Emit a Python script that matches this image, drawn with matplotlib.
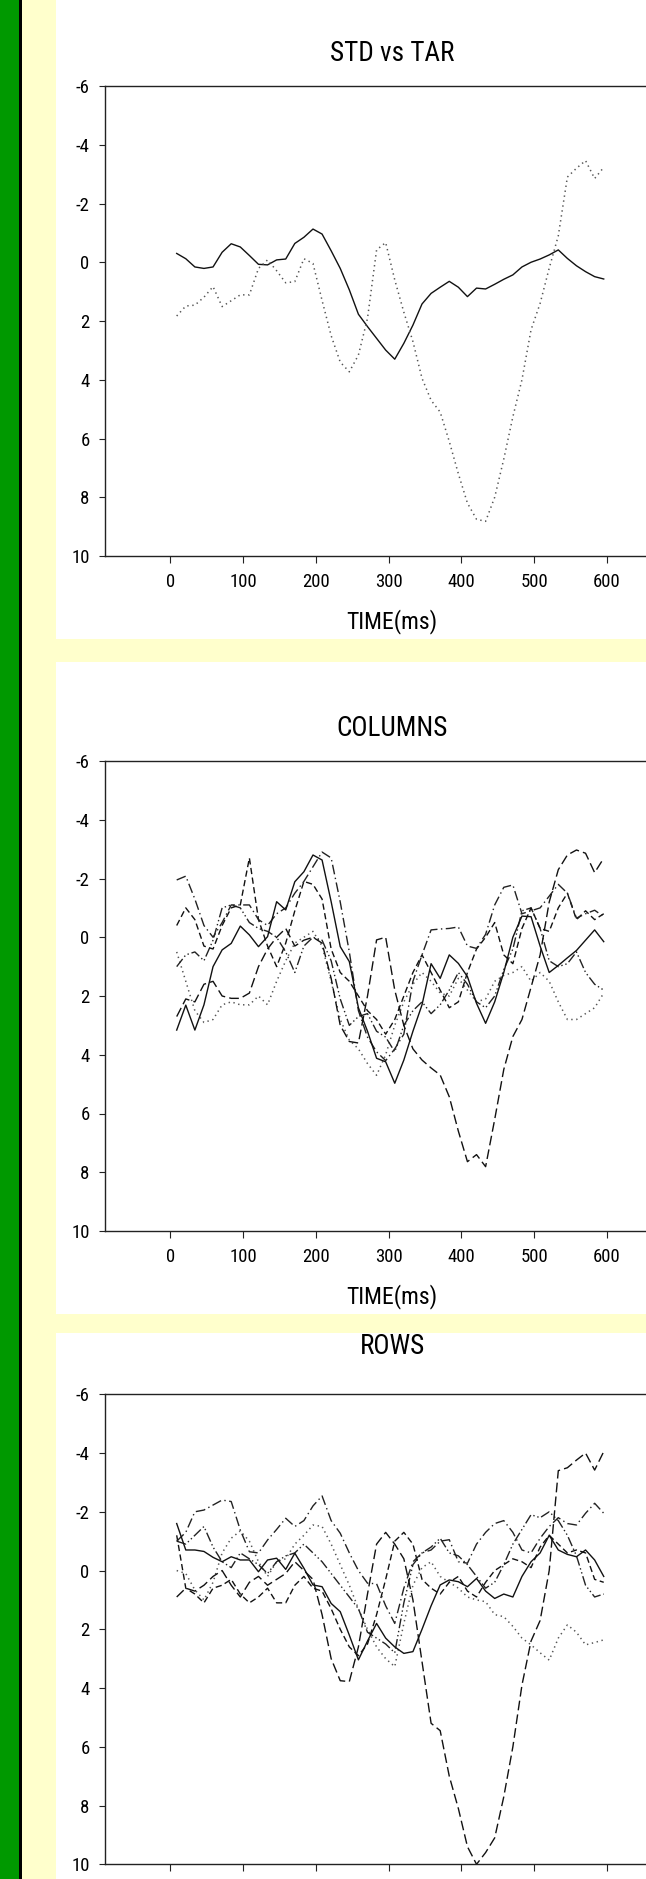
import numpy as np
import matplotlib.pyplot as plt
from matplotlib.patches import Rectangle

plt.rcParams['font.family'] = ['Roboto Condensed', 'Liberation Sans', 'DejaVu Sans']
plt.rcParams['axes.unicode_minus'] = False
plt.rcParams['lines.scale_dashes'] = False

W, H = 646, 1879

# sample times (ms)
t_ms = np.linspace(8.9, 595.5, 48)

# STD vs TAR grand averages (uV, negative up)
std_wave = [-0.30, -0.12, 0.16, 0.21, 0.16, -0.34, -0.63, -0.52, -0.23, 0.07,
            0.09, -0.08, -0.11, -0.64, -0.85, -1.13, -0.96, -0.39, 0.21, 0.94,
            1.77, 2.19, 2.59, 2.99, 3.30, 2.76, 2.14, 1.42, 1.06, 0.85,
            0.65, 0.85, 1.17, 0.88, 0.91, 0.75, 0.58, 0.43, 0.16, 0.00,
            -0.11, -0.25, -0.42, -0.13, 0.12, 0.32, 0.49, 0.57]
tar_wave = [1.83, 1.49, 1.46, 1.19, 0.83, 1.51, 1.31, 1.11, 1.11, 0.21,
            -0.08, 0.29, 0.70, 0.66, -0.12, 0.04, 1.30, 2.50, 3.40, 3.73,
            3.16, 1.91, -0.42, -0.67, 0.60, 1.70, 2.70, 3.95, 4.70, 5.10,
            6.10, 7.20, 8.20, 8.75, 8.82, 8.00, 6.70, 5.26, 4.00, 2.30,
            1.40, 0.20, -0.90, -2.90, -3.20, -3.46, -2.85, -3.23]

# COLUMNS
col_1 = [3.16, 2.31, 3.16, 2.3, 1.0, 0.43, 0.21, -0.38, -0.08, 0.32,
         -0.02, -1.21, -0.93, -1.89, -2.23, -2.80, -2.63, -1.21, 0.32, 0.83,
         2.4, 3.2, 4.12, 4.24, 4.97, 4.18, 3.2, 2.3, 0.9, 1.40,
         0.60, 0.89, 1.34, 2.25, 2.93, 2.2, 1.2, 0.0, -0.72, -0.7,
         0.3, 1.2, 0.96, 0.7, 0.45, 0.1, -0.25, 0.15]
col_2 = [2.7, 2.1, 2.2, 1.6, 1.5, 2.0, 2.08, 2.08, 1.9, 1.0,
         0.4, 0.0, -0.3, 0.3, 0.1, 0.0, 0.2, 1.4, 3.0, 3.55,
         3.6, 2.0, 0.09, 0.0, 1.8, 3.0, 3.8, 4.18, 4.45, 4.69,
         5.43, 6.6, 7.64, 7.4, 7.81, 6.2, 4.5, 3.38, 2.8, 1.7,
         0.6, -1.2, -2.3, -2.8, -2.97, -2.86, -2.2, -2.69]
col_3 = [-1.95, -2.08, -1.3, -0.4, 0.0, -0.5, -1.1, -1.1, -1.1, -0.6,
         -0.4, -0.8, -1.0, -1.5, -1.9, -2.4, -2.9, -2.7, -1.2, 0.5,
         2.5, 3.4, 3.9, 4.2, 3.8, 3.3, 1.5, 0.6, -0.25, -0.28,
         -0.3, -0.35, 0.3, 0.38, -0.1, -1.1, -1.7, -1.78, -0.8, -0.9,
         -1.0, -1.4, -1.8, -1.5, -0.65, -0.8, -0.92, -0.7]
col_4 = [0.5, 1.5, 2.5, 2.9, 2.8, 2.3, 2.2, 2.3, 2.3, 2.0,
         2.3, 1.5, 0.8, 0.2, 0.0, -0.2, 0.3, 1.5, 2.8, 3.5,
         3.8, 4.3, 4.7, 4.0, 3.0, 2.2, 1.6, 1.2, 1.5, 1.9,
         2.0, 1.4, 1.8, 2.2, 2.1, 1.5, 1.3, 1.2, 1.0, 1.5,
         1.2, 1.5, 2.2, 2.8, 2.8, 2.6, 2.4, 1.9]
col_5 = [-0.4, -1.0, -0.6, 0.3, 0.4, -0.4, -1.0, -1.1, -2.7, -0.6,
         0.3, 1.0, 0.2, -0.9, -1.9, -1.8, -1.3, 0.4, 1.2, 1.5,
         2.0, 2.5, 2.8, 3.3, 2.8, 2.0, 1.2, 0.6, 1.2, 1.8,
         2.4, 2.2, 1.2, 0.4, 0.0, -0.5, 0.6, 0.9, -0.3, -1.0,
         -0.3, -0.2, -1.0, -1.5, -0.6, -0.9, -0.6, -0.8]
col_6 = [1.0, 0.6, 0.5, 0.8, 0.1, -1.0, -1.1, -1.0, -0.5, -0.3,
         -0.2, 0.0, 0.5, 1.2, 0.3, 0.0, 0.1, 0.8, 2.1, 3.0,
         2.7, 2.6, 3.2, 3.4, 3.9, 3.0, 2.5, 2.2, 2.6, 2.3,
         1.8, 1.2, 1.6, 2.2, 2.4, 2.0, 1.1, 0.4, -0.9, -1.0,
         -0.3, 0.8, 1.0, 0.9, 0.5, 1.2, 1.6, 1.8]

# ROWS
row_1 = [-1.6, -0.7, -0.70, -0.65, -0.45, -0.30, -0.47, -0.36, -0.36, 0.04,
         -0.36, -0.42, -0.04, -0.59, -0.08, 0.49, 0.55, 1.12, 1.4, 2.2,
         3.04, 2.4, 1.8, 2.3, 2.6, 2.82, 2.76, 2.0, 1.2, 0.49,
         0.32, 0.38, 0.55, 0.27, 0.7, 0.95, 0.8, 0.9, 0.2, -0.3,
         -0.6, -1.2, -0.7, -0.55, -0.47, -0.7, -0.36, 0.2]
row_2 = [0.9, 0.6, 0.7, 0.5, 0.2, 0.0, 0.5, 0.9, 0.4, 0.2,
         0.5, 0.3, 0.1, -0.3, 0.0, 0.3, 1.5, 3.0, 3.75, 3.78,
         2.6, 0.8, -0.9, -1.3, -0.9, -0.4, 1.0, 3.1, 5.2, 5.45,
         7.0, 8.1, 9.4, 10.0, 9.6, 9.1, 7.7, 6.0, 3.9, 2.4,
         1.7, 0.0, -3.4, -3.5, -3.76, -4.0, -3.42, -4.05]
row_3 = [-1.0, -1.3, -2.0, -2.06, -2.23, -2.40, -2.35, -1.38, -0.64, -0.6,
         -1.04, -1.4, -1.78, -1.5, -1.7, -2.2, -2.54, -1.7, -1.27, -0.6,
         0.0, 0.43, 0.45, 1.2, 1.8, 0.6, -0.3, -0.6, -0.7, -1.0,
         -1.05, -0.3, -0.25, -0.9, -1.3, -1.6, -1.7, -1.3, -0.7, -0.6,
         -1.1, -1.5, -1.8, -1.6, -1.55, -1.95, -2.29, -1.95]
row_4 = [0.0, 0.1, 0.66, 1.0, 0.4, -0.6, -1.1, -1.35, -1.0, -0.3,
         0.2, -0.3, -0.4, -0.9, -1.2, -1.55, -1.5, -0.9, -0.2, 0.5,
         1.3, 2.0, 2.6, 3.0, 3.27, 1.8, 0.5, -0.1, -0.3, 0.2,
         0.4, 0.6, 0.9, 1.0, 1.06, 1.5, 1.57, 1.9, 2.3, 2.53,
         2.8, 3.05, 2.3, 1.85, 2.1, 2.53, 2.45, 2.36]
row_5 = [-1.2, 0.6, 0.8, 1.1, 0.6, 0.5, 0.3, 0.8, 1.1, 0.9,
         0.6, 1.1, 1.1, 0.5, 0.2, 0.6, 0.7, 1.3, 2.0, 2.6,
         2.9, 2.5, 1.5, 0.3, -1.0, -1.3, -0.9, 0.3, 0.6, 0.8,
         0.4, 0.2, 0.7, 0.9, 0.4, 0.0, -0.2, -0.4, -0.3, -0.1,
         -0.8, -1.2, -0.9, -0.6, -0.7, -0.6, 0.3, 0.4]
row_6 = [-1.0, -0.9, -1.2, -1.5, -0.8, -0.3, -0.1, -0.6, -0.4, -0.2,
         0.1, -0.3, -0.5, -0.6, -0.9, -0.6, -0.3, 0.1, 0.5, 0.9,
         1.3, 2.1, 2.3, 2.5, 2.8, 1.1, -0.2, -0.6, -0.8, -1.1,
         -0.6, -0.5, -0.2, 0.2, 0.6, 0.4, -0.2, -0.9, -1.4, -1.9,
         -1.8, -2.0, -1.7, -1.2, -0.5, 0.5, 0.9, 0.8]

# line styles (dash lengths in points)
SOLID = dict(linestyle='-', color='#111111', lw=1.0)
DOTTED = dict(linestyle=(0, (1.0, 2.6)), color='#555555', lw=1.1)
DASHED = dict(linestyle=(0, (7, 3)), color='#111111', lw=1.0)
DASHDOT = dict(linestyle=(0, (7, 2.5, 1, 2.5)), color='#222222', lw=1.0)
DASHMED = dict(linestyle=(0, (4.5, 2.5)), color='#111111', lw=1.0)
DASHDOTDOT = dict(linestyle=(0, (7, 2, 1, 2, 1, 2)), color='#222222', lw=1.0)

fig = plt.figure(figsize=(W / 100, H / 100), dpi=100, facecolor='#ffffcc')


def box(x0, y0, x1, y1, color):
    # rectangle given in pixels from the top-left corner, kept behind the axes
    fig.patches.append(Rectangle((x0 / W, 1 - y1 / H), (x1 - x0) / W, (y1 - y0) / H,
                                 transform=fig.transFigure, facecolor=color,
                                 edgecolor='none', zorder=-10))


box(0, 0, 18.5, H, '#009900')
box(18.5, 0, 21.5, H, '#000000')
box(56, 0, W, 639, 'white')
box(56, 662, W, 1314, 'white')
box(56, 1333, W, H, 'white')


def panel(top, title, title_y, lines, xlabel=True):
    ax = fig.add_axes([104.7 / W, 1 - (top + 470) / H, 575.1 / W, 470 / H])
    ax.set_facecolor('white')
    for y, st in lines:
        ax.plot(t_ms, y, **st)
    ax.set_xlim(-90, 700)
    ax.set_ylim(10, -6)
    ax.set_xticks(range(0, 601, 100))
    ax.set_yticks(range(-6, 11, 2))
    for s in ['top', 'bottom', 'left']:
        ax.spines[s].set_color('#222222')
        ax.spines[s].set_linewidth(1.0)
    ax.spines['right'].set_visible(False)
    ax.tick_params(axis='x', direction='out', length=5, width=0.8,
                   labelsize=13.5, pad=7, colors='#222222', labelcolor='black',
                   labelbottom=xlabel)
    ax.tick_params(axis='y', direction='out', length=4.3, width=0.8,
                   labelsize=13.5, pad=6.5, colors='#222222', labelcolor='black')
    ax.text(0.5, 1 + (top - title_y) / 470, title, transform=ax.transAxes,
            ha='center', va='center', fontsize=19.5)
    if xlabel:
        ax.text(0.5, -66 / 470, 'TIME(ms)', transform=ax.transAxes,
                ha='center', va='center', fontsize=17)
    return ax


panel(86, 'STD vs TAR', 53, [(std_wave, SOLID), (tar_wave, DOTTED)])
panel(761, 'COLUMNS', 728, [(col_4, DOTTED), (col_6, DASHDOTDOT), (col_5, DASHMED),
                            (col_3, DASHDOT), (col_2, DASHED), (col_1, SOLID)])
# bottom panel runs off the page, so its time labels are not drawn
panel(1394.3, 'ROWS', 1346, [(row_4, DOTTED), (row_6, DASHDOTDOT), (row_5, DASHMED),
                             (row_3, DASHDOT), (row_2, DASHED), (row_1, SOLID)],
      xlabel=False)

fig.savefig('out.png', dpi=100, facecolor=fig.get_facecolor())
